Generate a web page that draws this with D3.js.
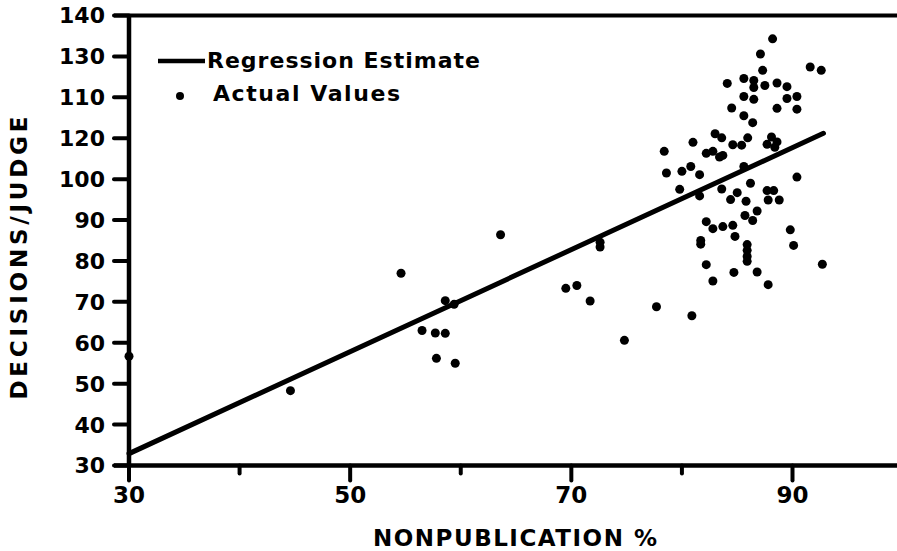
<!DOCTYPE html>
<html>
<head>
<meta charset="utf-8">
<script src="https://cdn.jsdelivr.net/npm/d3@7"></script>
<style>
  html, body { margin: 0; padding: 0; background: #fff; }
  svg { display: block; }
  text { font-family: "DejaVu Sans", sans-serif; font-weight: bold; fill: #000; }
</style>
</head>
<body>
<svg id="chart" width="897" height="551"></svg>
<script>
// ---- data ----
const actualX = [30.0, 44.6, 54.6, 56.5, 57.7, 58.6, 57.8, 59.5, 58.6, 59.4,
  63.6, 69.5, 70.5, 71.7, 72.6, 72.6, 74.8, 77.7, 80.9, 78.4,
  78.6, 79.8, 80.0, 80.8, 81.0, 81.6, 81.6, 81.7, 81.7, 82.2,
  82.8, 82.2, 82.8, 82.2, 82.8, 83.0, 83.6, 83.4, 83.7, 83.6,
  83.7, 84.1, 84.5, 84.6, 84.6, 85.4, 84.4, 85.0, 84.8, 84.7,
  85.6, 85.6, 85.6, 85.6, 85.8, 85.7, 85.9, 85.9, 85.9, 85.9,
  85.95, 86.2, 86.4, 86.5, 86.4, 86.5, 86.5, 86.8, 86.8, 87.1,
  87.3, 87.5, 87.7, 88.1, 88.6, 88.4, 87.7, 88.3, 87.8, 88.8,
  87.8, 88.2, 88.6, 88.6, 89.5, 89.5, 89.8, 90.1, 90.4, 90.4,
  90.4, 91.6, 92.6, 92.7];
const actualY = [56.7, 48.3, 77.0, 63.0, 62.4, 62.3, 56.2, 55.0, 70.3, 69.4,
  86.4, 73.3, 74.0, 70.2, 84.6, 83.4, 60.6, 68.8, 66.6, 106.8,
  101.5, 97.5, 101.9, 103.1, 109.0, 101.1, 95.9, 85.0, 84.1, 106.3,
  106.8, 89.6, 87.9, 79.1, 75.1, 111.1, 110.1, 105.4, 105.8, 97.6,
  88.4, 123.4, 117.4, 88.7, 108.4, 108.3, 95.0, 96.7, 86.0, 77.2,
  124.6, 120.2, 115.5, 103.1, 94.6, 91.1, 84.0, 82.6, 81.1, 79.9,
  110.1, 99.0, 89.9, 119.5, 113.8, 124.1, 122.4, 92.2, 77.3, 130.6,
  126.6, 122.9, 108.5, 110.3, 109.1, 107.8, 97.2, 97.2, 94.9, 94.9,
  74.2, 134.3, 123.5, 117.3, 122.6, 119.7, 87.6, 83.8, 120.2, 117.1,
  100.5, 127.4, 126.6, 79.2];
const regressionX = [30, 92.8];
const regressionY = [32.9, 111.2];

const xMajorTicks = [30, 50, 70, 90];
const xMajorLabels = ["30", "50", "70", "90"];
const xMinorTicks = [40, 60, 80];
const yTicks = [30, 40, 50, 60, 70, 80, 90, 100, 110, 120, 130, 140];
const yTickLabels = ["30", "40", "50", "60", "70", "80", "90", "100", "120", "110", "130", "140"];

const xTitle = "NONPUBLICATION %";
const yTitle = "DECISIONS/JUDGE";
const legendLabels = ["Regression Estimate", "Actual Values"];

// ---- layout ----
const W = 897, H = 551;
const svg = d3.select("#chart");

const x = d3.scaleLinear().domain([30, 90]).range([129, 792.5]);
const y = d3.scaleLinear().domain([30, 140]).range([465.5, 15.5]);

const axisW = 4.5;
const x0 = x(30), yBottom = y(30), yTop = y(140);

// y ticks
svg.append("g").selectAll("line").data(yTicks).join("line")
  .attr("x1", x0 - 15).attr("x2", x0)
  .attr("y1", d => y(d)).attr("y2", d => y(d))
  .attr("stroke", "#000").attr("stroke-width", 4).attr("stroke-linecap", "round");

svg.append("g").selectAll("text").data(yTicks).join("text")
  .attr("x", 105).attr("y", d => y(d)).attr("dy", "0.36em")
  .attr("text-anchor", "end").attr("font-size", 22)
  .text((d, i) => yTickLabels[i]);

// x ticks
svg.append("g").selectAll("line").data(xMajorTicks).join("line")
  .attr("x1", d => x(d)).attr("x2", d => x(d))
  .attr("y1", yBottom).attr("y2", yBottom + 15)
  .attr("stroke", "#000").attr("stroke-width", 4).attr("stroke-linecap", "round");
svg.append("g").selectAll("line").data(xMinorTicks).join("line")
  .attr("x1", d => x(d)).attr("x2", d => x(d))
  .attr("y1", yBottom).attr("y2", yBottom + 8)
  .attr("stroke", "#000").attr("stroke-width", 4).attr("stroke-linecap", "round");

svg.append("g").selectAll("text").data(xMajorTicks).join("text")
  .attr("x", d => x(d)).attr("y", 503)
  .attr("text-anchor", "middle").attr("font-size", 23)
  .text((d, i) => xMajorLabels[i]);

// axis frame lines
svg.append("line").attr("x1", x0).attr("x2", x0).attr("y1", yTop).attr("y2", yBottom)
  .attr("stroke", "#000").attr("stroke-width", axisW);
svg.append("line").attr("x1", x0 - 15).attr("x2", W).attr("y1", yBottom).attr("y2", yBottom)
  .attr("stroke", "#000").attr("stroke-width", axisW);
svg.append("line").attr("x1", x0 - 15).attr("x2", W).attr("y1", yTop).attr("y2", yTop)
  .attr("stroke", "#000").attr("stroke-width", 4);

// regression line
const line = d3.line().x(d => x(d[0])).y(d => y(d[1]));
svg.append("path")
  .datum(regressionX.map((v, i) => [v, regressionY[i]]))
  .attr("d", line).attr("fill", "none").attr("stroke", "#000")
  .attr("stroke-width", 5).attr("stroke-linecap", "round");

// points
svg.append("g").selectAll("circle").data(actualX.map((v, i) => [v, actualY[i]])).join("circle")
  .attr("cx", d => x(d[0])).attr("cy", d => y(d[1])).attr("r", 4.5).attr("fill", "#000");

// titles
svg.append("text").attr("x", 515).attr("y", 546).attr("text-anchor", "middle")
  .attr("font-size", 23).attr("textLength", 284).attr("lengthAdjust", "spacing")
  .text(xTitle);
svg.append("text").attr("transform", "translate(27,258) rotate(-90)").attr("text-anchor", "middle")
  .attr("font-size", 23).attr("textLength", 283).attr("lengthAdjust", "spacing")
  .text(yTitle);

// legend
svg.append("line").attr("x1", 158).attr("x2", 205).attr("y1", 61).attr("y2", 61)
  .attr("stroke", "#000").attr("stroke-width", 4.5);
svg.append("text").attr("x", 207).attr("y", 68).attr("font-size", 22)
  .attr("textLength", 273).attr("lengthAdjust", "spacing").text(legendLabels[0]);
svg.append("circle").attr("cx", 180).attr("cy", 96).attr("r", 4).attr("fill", "#000");
svg.append("text").attr("x", 213).attr("y", 101).attr("font-size", 22)
  .attr("textLength", 187).attr("lengthAdjust", "spacing").text(legendLabels[1]);
</script>
</body>
</html>
